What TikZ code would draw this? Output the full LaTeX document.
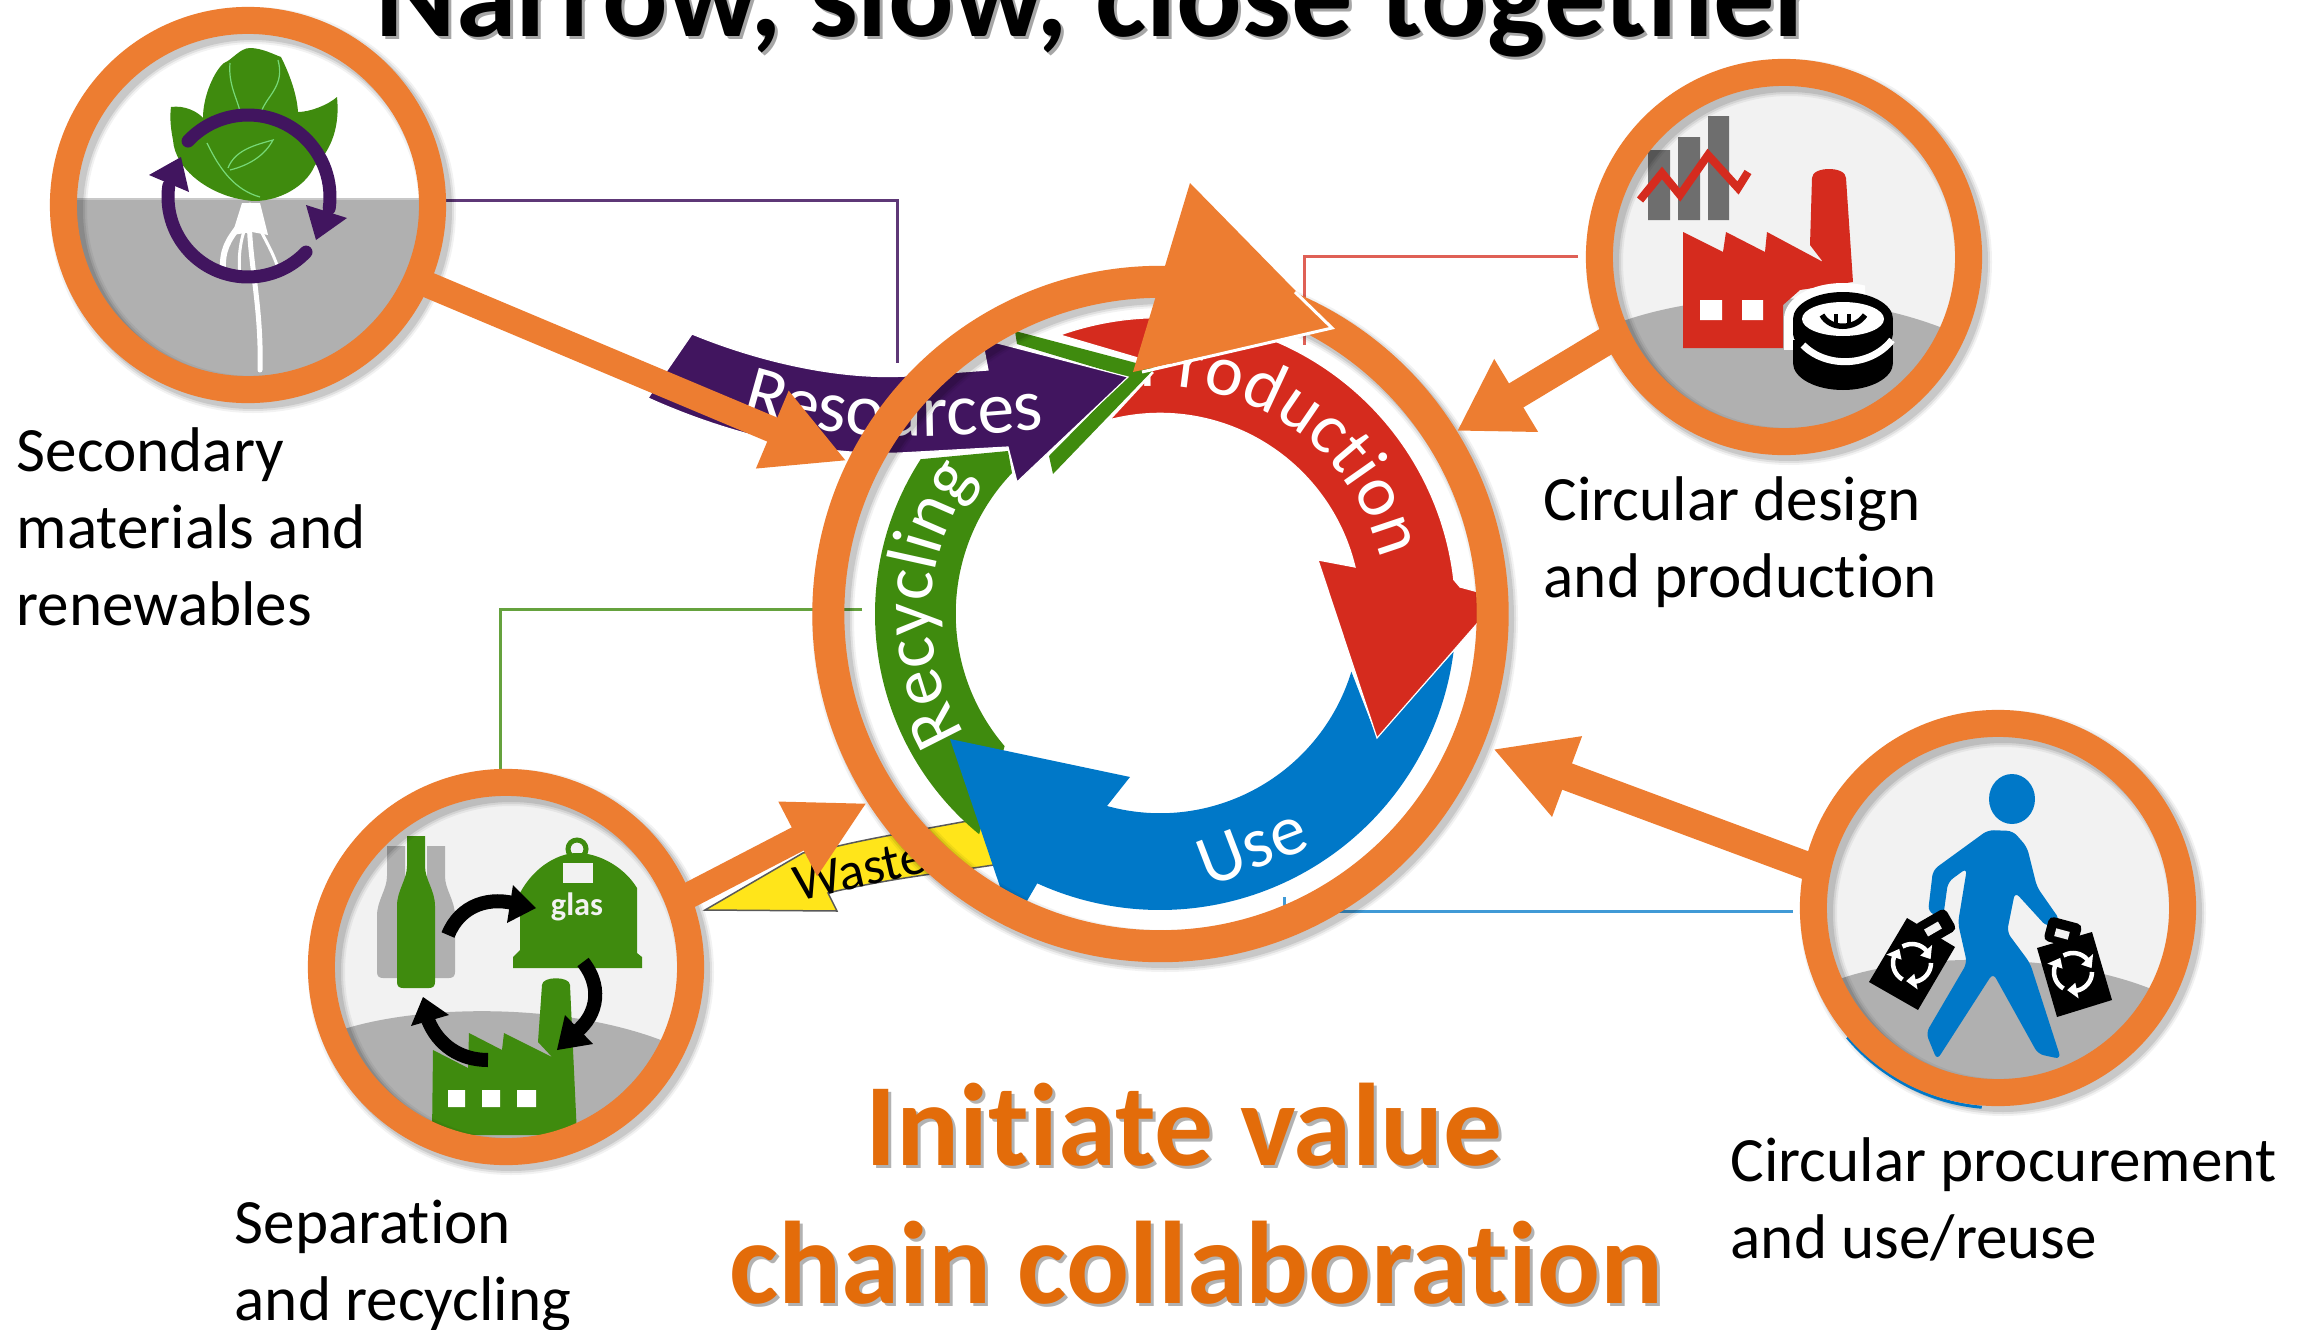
\documentclass[tikz,border=0pt]{standalone}
\usepackage{fontspec}
\setmainfont{Carlito}[Ligatures=NoCommon]
\usetikzlibrary{arrows.meta,calc,decorations.text}
\definecolor{corg}{HTML}{ED7D31}
\definecolor{chead}{HTML}{E36C0A}
\definecolor{cred}{HTML}{D52B1E}
\definecolor{cgrn}{HTML}{3F8B0E}
\definecolor{cpur}{HTML}{41155F}
\definecolor{cblu}{HTML}{0078C8}
\definecolor{cyel}{HTML}{FFE51A}
\definecolor{chill}{HTML}{B0B0B0}
\definecolor{clite}{HTML}{F2F2F2}
\definecolor{cbar}{HTML}{6E6E6E}
\tikzset{
  x=0.01cm,y=-0.01cm,
  ringnode/.style={circle,draw=corg,line width=0.27cm,minimum size=3.69cm,inner sep=0pt,outer sep=0pt},
  hubnode/.style={circle,draw=corg,line width=0.32cm,minimum size=6.64cm,inner sep=0pt,outer sep=0pt},
  fat/.style={draw=corg,line width=#1*0.01cm,line cap=butt},
  thinline/.style={line width=0.03cm},
  label/.style={font=\fontsize{17.95}{21.76}\selectfont,align=left,anchor=base west,inner sep=0pt,text=black},
  bandtxt/.style={inner sep=0pt,font=\fontsize{20.5}{24}\selectfont},
  bigtitle/.style={font=\bfseries\fontsize{34.8}{40}\selectfont,anchor=base west,inner sep=0pt},
  orgtitle/.style={font=\bfseries\fontsize{33.4}{39}\selectfont,align=center,anchor=base,inner sep=0pt},
  blackarc/.style={draw=black,line width=0.14cm,line cap=butt},
  band/.style={draw=white,line width=0.012cm},
}
\newcommand\ringshade[4]{%
  \foreach \e/\o in {10/.05,6/.08,2/.1}{%
    \draw[black,opacity=\o,line width={(#4+\e)*0.01cm}] ({#1+5},{#2+5}) circle[radius=#3];}}
\newcommand\iconclip[2]{\clip (#1,#2) circle[radius=172];}
\newcommand\bottle[4]{\fill[#4] ({#1-9},#2) -- ({#1+9},#2) -- ({#1+9},{#2+30}) .. controls ({#1+9},{#2+44}) and ({#1+19},{#2+54}) .. ({#1+19},{#2+70}) -- ({#1+19},{#3-6}) .. controls ({#1+19},{#3-2}) and ({#1+17},#3) .. ({#1+13},#3) -- ({#1-13},#3) .. controls ({#1-17},#3) and ({#1-19},{#3-2}) .. ({#1-19},{#3-6}) -- ({#1-19},{#2+70}) .. controls ({#1-19},{#2+54}) and ({#1-9},{#2+44}) .. ({#1-9},{#2+30}) -- cycle;}
\newcommand\recyc[2]{\foreach \a in {0,120,240}{%
  \draw[white,line width=0.045cm] (#1,#2) ++(\a:19) arc[start angle=\a,end angle=\a+80,radius=19];
  \fill[white] ($(#1,#2)+({\a+78}:27)$) -- ($(#1,#2)+({\a+78}:11)$) -- ($(#1,#2)+({\a+108}:19)$) -- cycle;}}
\begin{document}
\begin{tikzpicture}
\useasboundingbox (0,0) rectangle (2308,1330);
\fill[white] (0,0) rectangle (2308,1330);

% titles
\node[bigtitle,text=black,opacity=.35] (titleshade) at (378,40) {Narrow, slow, close together};
\node[bigtitle,text=black] (title) at (375,36) {Narrow, slow, close together};
\node[orgtitle,text=black,opacity=.3] (headshade) at (1199,1306) {Initiate value\hspace*{0.24cm}\\chain collaboration};
\node[orgtitle,text=chead] (head) at (1196,1303) {Initiate value\hspace*{0.24cm}\\chain collaboration};

% labels
\node[label] (lab1) at (16,625) {Secondary\\materials and\\renewables};
\node[label] (lab2) at (1543,597) {Circular design\\and production};
\node[label] (lab3) at (1730,1258) {Circular procurement\\and use/reuse};
\node[label] (lab4) at (234,1320) {Separation\\and recycling};

% waste band
\draw[fill=cyel,draw=black!65,line width=0.015cm] (705,910) -- (803,853) -- (830,848) .. controls (870,838) and (920,830) .. (1000,815) -- (1000,864) .. controls (950,872) and (890,878) .. (828,893) -- (837,911) -- cycle;
\node[bandtxt,font=\fontsize{15}{18}\selectfont,rotate=13,text=black] (waste) at (860,870) {Waste};

% thin connectors
\coordinate (pa) at (440,200);
\coordinate (pb) at (897,363);
\coordinate (ra) at (1578,256);
\coordinate (rb) at (1304,345);
\coordinate (ga) at (862,609);
\coordinate (gb) at (500,775);
\coordinate (ba) at (1793,911);
\coordinate (bb) at (1284,897);
\draw[thinline,draw=cpur!85] (pa) -| (pb);
\draw[thinline,draw=cred!75] (ra) -| (rb);
\draw[thinline,draw=cgrn!80] (ga) -| (gb);
\draw[thinline,draw=cblu!75] (ba) -| (bb);

% green band
\fill[cgrn] (1160,614) ++(129.4:285) arc[start angle=129.4,end angle=212.9,radius=285] -- (1008,451) -- (1012,473) arc[start angle=223.6,end angle=139.5,radius=204] -- cycle;
\path[decorate,decoration={text along path,text align=center,text={|\color{white}\fontsize{20.5}{24}\selectfont|Recycling}}] (1160,614) ++(146:229) arc[start angle=146,end angle=219,radius=229];

% blue band
\fill[cblu] (1160,614) ++(7.3:296) arc[start angle=7.3,end angle=114.5,radius=296] -- (1013,925) -- (950,739) -- (1130,777) -- (1107,806) arc[start angle=105.4,end angle=17,radius=200] -- (1377,738) -- cycle;
\node[bandtxt,rotate=21,text=white] (use) at (1252,846) {Use};

% red band
\draw[fill=cred,band] (1060,335) arc[start angle=250.3,end angle=353.4,radius=296] -- (1460,587) -- (1482,593) -- (1482,618) -- (1377,738) -- (1318,560) -- (1355,567) arc[start angle=346.5,end angle=255.5,radius=200.5] -- (1153,373) -- (1138,358) -- cycle;
\path[decorate,decoration={text along path,text align=center,text={|\color{white}\fontsize{20.5}{24}\selectfont|Production}}] (1160,614) ++(264:228) arc[start angle=264,end angle=347,radius=228];

% green chevron
\fill[cgrn] (1015,331) -- (1155,368) -- (1053,474) -- (1049,456) -- (1127,377) -- (1017,344) -- cycle;

% resources band
\draw[fill=cpur,band] (692,334) .. controls (760,362) and (840,380) .. (907,376) -- (988,370) -- (982,339) -- (1128,377) -- (1017,482) -- (1008,447) -- (900,453) .. controls (820,456) and (730,435) .. (648,398) -- cycle;
\path[decorate,decoration={text along path,text align=center,text={|\color{white}\fontsize{21}{24}\selectfont|Resources}}] (736,410) .. controls (820,440) and (930,442) .. (1050,428);

% icons
\begin{scope}
\iconclip{248}{205}
\fill[white] (248,205) circle[radius=172];
\fill[chill] (70,200) rectangle (430,390);
\fill[chill!70] (70,198) rectangle (430,200);
\fill[cgrn] (171,107) .. controls (185,105) and (198,112) .. (203,118) .. controls (203,95) and (215,70) .. (224,63) .. controls (232,60) and (240,48) .. (250,48) .. controls (262,48) and (275,55) .. (281,57) .. controls (290,75) and (297,95) .. (298,112) .. controls (310,112) and (328,105) .. (337,97) .. controls (340,125) and (332,150) .. (315,165) .. controls (305,190) and (270,205) .. (245,200) .. controls (210,195) and (175,170) .. (173,140) .. controls (170,125) and (170,115) .. (171,107) -- cycle;
\begin{scope}[draw=green!45!white!85!black,line width=0.012cm]
\draw (230,63) .. controls (228,85) and (238,100) .. (240,112);
\draw (278,60) .. controls (285,85) and (268,95) .. (262,110);
\draw (207,143) .. controls (220,170) and (235,190) .. (260,197);
\draw (228,168) .. controls (235,150) and (255,145) .. (273,140) .. controls (265,155) and (250,165) .. (230,170);
\end{scope}
\fill[white] (242,203) -- (260,203) -- (268,235) -- (252,232) -- (232,235) -- cycle;
\foreach \p/\w in {{(240,225) .. controls (228,240) and (222,250) .. (223,270)}/6,{(250,205) .. controls (246,250) and (262,300) .. (260,370)}/5,{(258,225) .. controls (265,240) and (272,250) .. (278,268)}/3,{(246,226) .. controls (240,240) and (238,260) .. (240,275)}/3}{
  \draw[white,line width=\w*0.01cm,line cap=round] \p;}
\draw[cpur,line width=0.13cm,line cap=round] (248,197) ++(223:82) arc[start angle=223,end angle=368,radius=82];
\fill[cpur] (306,205) -- (347,218) -- (316,240) -- cycle;
\draw[cpur,line width=0.13cm,line cap=round] (248,197) ++(43.5:80) arc[start angle=43.5,end angle=188,radius=80];
\fill[cpur] (149,175) -- (181,157) -- (189,192) -- cycle;
\end{scope}

\begin{scope}
\iconclip{1784}{257}
\fill[clite] (1784,257) circle[radius=172];
\fill[chill] (1600,330) .. controls (1700,286) and (1860,286) .. (1970,340) -- (1970,440) -- (1600,440) -- cycle;
\fill[cbar] (1648,150) rectangle (1670,220) (1678,137) rectangle (1700,220) (1708,116) rectangle (1729,220);
\draw[cred,line width=0.08cm,miter limit=6] (1640,200) -- (1662,173) -- (1680,195) -- (1708,155) -- (1738,188) -- (1748,172);
\fill[cred] (1683,232) -- (1723,252) -- (1726,232) -- (1765,252) -- (1767,232) -- (1823,262) -- (1810,245) -- (1812,178) .. controls (1812,166) and (1846,166) .. (1846,178) -- (1853,282) -- (1800,290) -- (1783,305) -- (1783,348) -- (1683,348) -- cycle;
\fill[white] (1700,300) rectangle (1722,320) (1742,300) rectangle (1763,320);
\begin{scope}
\clip (1775,275) rectangle (1865,352);
\draw[white,line width=0.1cm,fill=white] (1843,319) ellipse[x radius=54,y radius=31];
\fill[white] (1784,319) rectangle (1795,350);
\end{scope}
\fill[black] (1843,363) ellipse[x radius=50,y radius=27];
\fill[black] (1793,340) rectangle (1893,363);
\fill[black] (1843,334) ellipse[x radius=50,y radius=22];
\fill[black] (1793,319) rectangle (1893,334);
\fill[black] (1843,319) ellipse[x radius=50,y radius=27];
\draw[white,line width=0.07cm] (1803,345) .. controls (1825,368) and (1870,368) .. (1892,340);
\fill[white] (1843,319) ellipse[x radius=41,y radius=17];
\draw[black,line width=0.055cm] (1822,315) .. controls (1830,330) and (1855,330) .. (1865,315);
\draw[black,line width=0.04cm] (1836,314) -- (1836,326) (1849,314) -- (1849,326);
\end{scope}

\begin{scope}
\iconclip{506}{967}
\fill[clite] (506,967) circle[radius=172];
\fill[chill] (335,1032) .. controls (420,1002) and (580,1002) .. (680,1048) -- (680,1150) -- (335,1150) -- cycle;
\bottle{396}{846}{978}{chill}
\bottle{436}{846}{978}{chill}
\bottle{416}{836}{988}{cgrn}
% bin
\draw[cgrn,line width=0.05cm,fill=clite] (577,849) circle[radius=9];
\fill[cgrn] (520,950) -- (520,893) .. controls (535,865) and (560,853) .. (577,853) .. controls (600,853) and (625,868) .. (637,888) -- (637,953) -- (642,957) -- (642,968) -- (513,968) -- (513,957) -- cycle;
\fill[clite] (563,863) rectangle (593,883);
\node[inner sep=0pt,text=clite,font=\bfseries\fontsize{9.2}{11}\selectfont] (glas) at (577,907) {glas};
% factory
\fill[cgrn] (433,1050) -- (468,1068) -- (469,1033) -- (502,1050) -- (504,1033) -- (552,1057) -- (538,1042) -- (542,985) .. controls (542,976) and (570,976) .. (570,985) -- (577,1135) -- (432,1135) -- cycle;
\fill[white] (448,1090) rectangle (465,1107) (482,1090) rectangle (500,1107) (517,1090) rectangle (536,1107);
% black arrows
\draw[blackarc] (448,935) .. controls (460,905) and (490,895) .. (520,905);
\fill[black] (513,885) -- (536,908) -- (507,923) -- cycle;
\draw[blackarc] (583,962) .. controls (605,990) and (595,1020) .. (572,1035);
\fill[black] (565,1015) -- (557,1050) -- (593,1044) -- cycle;
\draw[blackarc] (488,1060) .. controls (460,1060) and (438,1045) .. (428,1020);
\fill[black] (411,1026) -- (423,997) -- (449,1015) -- cycle;
\end{scope}

\begin{scope}
\iconclip{1998}{908}
\fill[clite] (1998,908) circle[radius=172];
\fill[chill] (1825,985) .. controls (1900,950) and (2070,950) .. (2165,995) -- (2165,1090) -- (1825,1090) -- cycle;
\fill[cblu] (2012,799) ellipse[x radius=23,y radius=25];
\fill[cblu,rounded corners=0.06cm] (1988,830) -- (2013,831) -- (2027,847) -- (2037,887) -- (2060,920) -- (2047,927) -- (2015,892) -- (2007,932) -- (2030,963) -- (2061,1059) -- (2038,1054) -- (1993,973) -- (1937,1060) -- (1926,1033) -- (1967,963) -- (1958,923) -- (1967,868) -- (1948,882) -- (1943,918) -- (1928,912) -- (1933,870) -- cycle;
\fill[black] (1907,918) -- (1955,947) -- (1918,1010) -- (1869,982) -- cycle;
\fill[black,rotate around={30:(1935,927)},rounded corners=0.05cm] (1917,915) rectangle (1953,940);
\fill[clite,rotate around={30:(1933,929)}] (1925,925) rectangle (1941,933);
\fill[black] (2037,948) -- (2092,932) -- (2112,1000) -- (2057,1017) -- cycle;
\fill[black,rotate around={-15:(2063,932)},rounded corners=0.05cm] (2046,920) rectangle (2080,945);
\fill[clite,rotate around={-15:(2062,934)}] (2055,930) rectangle (2069,938);
\recyc{1912}{963}
\recyc{2073}{972}
\end{scope}

% ring shadows
\ringshade{248}{205}{184.5}{27}
\ringshade{1784}{257}{184.5}{27}
\ringshade{506}{967}{184.5}{27}
\ringshade{1998}{908}{184.5}{27}
\ringshade{1160}{614}{332}{32}
\draw[cblu,line width=0.03cm] (1999,910) ++(95:198) arc[start angle=95,end angle=140,radius=198];

% rings
\node[hubnode] (hub) at (1160.5,614) {};
\node[ringnode] (c1) at (248,205) {};
\node[ringnode] (c2) at (1784,257) {};
\node[ringnode] (c3) at (506,967) {};
\node[ringnode] (c4) at (1998,908) {};

% arrow tips
\coordinate (t1) at (847,461);
\coordinate (t2) at (1457,431);
\coordinate (t3) at (1493,749);
\coordinate (t4) at (867,803);
\draw[fat=26,shorten <=-0.06cm,-{Triangle[length=0.81cm,width=0.78cm,fill=corg]}] (c1.-24) -- (t1);
\draw[fat=28,shorten <=-0.06cm,-{Triangle[length=0.69cm,width=0.80cm,fill=corg]}] (c2.205) -- (t2);
\draw[fat=28,shorten <=-0.06cm,-{Triangle[length=0.79cm,width=0.80cm,fill=corg]}] (c4.168.6) -- (t3);
\draw[fat=26,shorten <=-0.06cm,-{Triangle[length=0.78cm,width=0.78cm,fill=corg]}] (c3.21) -- (t4);

% large triangle on the hub
\fill[corg] (1190,183) -- (1332,328) -- (1133,372) -- cycle;
\draw[white,line width=0.03cm,line join=miter] (1295,292) -- (1332,328) -- (1142,372);
\end{tikzpicture}
\end{document}
